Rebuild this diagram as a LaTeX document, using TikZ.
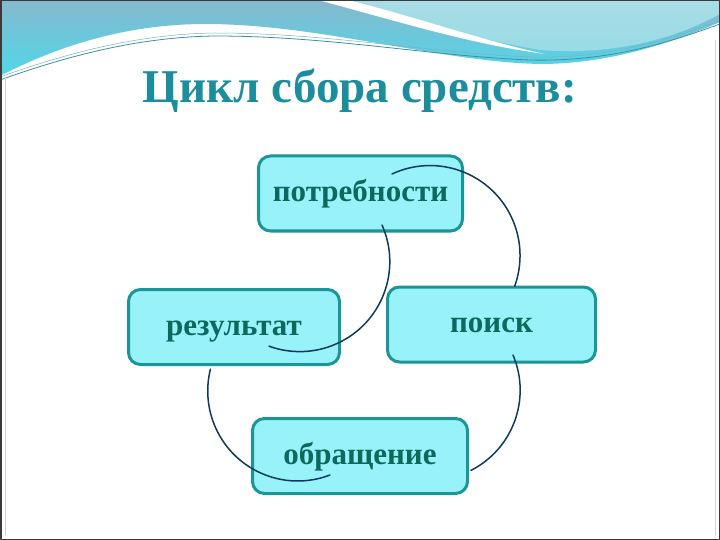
\documentclass[tikz,border=0pt]{standalone}
\usepackage{fontspec}
\setmainfont{Liberation Serif}
\usetikzlibrary{calc}
\definecolor{nebo}{HTML}{86B8CE}
\definecolor{nebolight}{HTML}{A9DCE6}
\definecolor{biryuza}{HTML}{4FD8E8}
\definecolor{liniya}{HTML}{3E8FA6}
\definecolor{zagolovok}{HTML}{1B8D9D}
\definecolor{zalivka}{HTML}{97F3F9}
\definecolor{kant}{HTML}{1C9598}
\definecolor{tekst}{HTML}{0E685C}
\definecolor{duga}{HTML}{0D3B5E}
\definecolor{ramka}{HTML}{3A3A3A}

\begin{document}
\begin{tikzpicture}[x=1pt, y=-1pt, line cap=round, line join=round,
  etap/.style={draw=kant, fill=zalivka, line width=3pt, rounded corners=12pt,
    minimum height=75pt, text height=22pt, text depth=6pt, text=tekst,
    font=\fontsize{31}{37}\selectfont\bfseries},
  dugaline/.style={duga, line width=1.5pt}]
  \useasboundingbox (0,0) rectangle (720,540);
  \fill[white] (0,0) rectangle (720,540);

  % шапка слайда
  \shade[top color=nebo, bottom color=biryuza] (0,0) -- (720,0) -- (720,22)
    .. controls (660,48) and (600,64) .. (540,64)
    .. controls (440,62) and (320,24) .. (205,24)
    .. controls (120,24) and (50,50) .. (0,76) -- cycle;
  \shade[top color=nebolight, bottom color=nebolight!80!biryuza] (335,0)
    .. controls (420,22) and (480,40) .. (540,50)
    .. controls (620,56) and (680,36) .. (720,14) -- (720,0) -- cycle;
  \fill[white] (318,0) .. controls (400,22) and (470,44) .. (545,54)
    .. controls (480,40) and (420,18) .. (348,0) -- cycle;
  \draw[liniya, line width=0.8pt] (0,80) .. controls (70,55) and (140,37) .. (215,36)
    .. controls (330,36) and (430,56) .. (530,60)
    .. controls (610,62) and (670,42) .. (720,24);
  \draw[liniya!70, line width=0.5pt] (0,77) .. controls (70,52) and (140,34) .. (215,33)
    .. controls (330,33) and (430,53) .. (530,57)
    .. controls (610,59) and (670,39) .. (720,21);

  % рамка
  \draw[gray!35, line width=0.6pt] (5,78) -- (5,535);
  \draw[gray!35, line width=0.6pt] (715,40) -- (715,535);
  \draw[ramka, line width=1.5pt] (0.75,0.75) rectangle (719.25,539.25);

  % заголовок
  \node[zagolovok, anchor=base, font=\fontsize{47}{56}\selectfont\bfseries] (title) at (360,103) {Цикл сбора средств:};

  % этапы цикла
  \node[etap, minimum width=204pt] (need) at (360.5,193.5) {потребности};
  \node[etap, minimum width=211pt] (result) at (234,327) {результат};
  \node[etap, minimum width=208pt] (search) at (491.5,324.5) {поиск};
  \node[etap, minimum width=215pt] (appeal) at (360,456) {обращение};

  % дуги
  \draw[dugaline] ($(need.center)+(31.5,-19.5)$) arc[start angle=-115, end angle=20, radius=90];
  \draw[dugaline] ($(need.center)+(21.5,31.5)$) arc[start angle=-24, end angle=110, radius=90];
  \draw[dugaline] ($(search.center)+(21.5,30.5)$) arc[start angle=-23, end angle=63, radius=90];
  \draw[dugaline] ($(appeal.center)+(-30,19)$) arc[start angle=69, end angle=194, radius=90];
\end{tikzpicture}
\end{document}
